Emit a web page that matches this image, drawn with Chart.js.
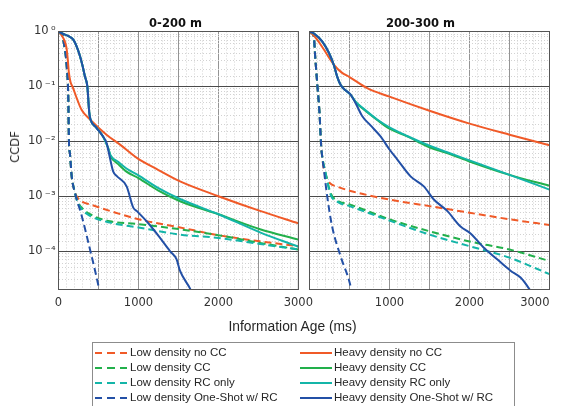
<!DOCTYPE html>
<html><head><meta charset="utf-8">
<script src="https://cdn.jsdelivr.net/npm/chart.js"></script>
<style>
html,body{margin:0;padding:0;background:#fff;overflow:hidden;width:561px;height:406px;}
#wrap{position:relative;width:561px;height:406px;overflow:hidden;background:#fff;}
canvas{position:absolute;top:0;}
#c1{left:0;} #c2{left:300px;}
.t{position:absolute;white-space:nowrap;color:#262626;transform:translate(-50%,-50%);line-height:1;}
.title{font:bold 11.5px "DejaVu Sans";color:#111;}
#ylab{font:11.5px "DejaVu Sans";transform:translate(-50%,-50%) rotate(-90deg);}
#xlab{font:13.8px "Liberation Sans",Arial,sans-serif;}
#legend{position:absolute;left:92px;top:342px;width:421px;height:80px;border:1px solid #8c8c8c;background:#fff;}
.lt{position:absolute;font:11.5px "Liberation Sans",Arial,sans-serif;color:#262626;white-space:nowrap;transform:translateY(-50%);line-height:1;}
.ls{position:absolute;width:32px;height:2px;transform:translateY(-50%);}
</style></head>
<body><div id="wrap">
<canvas id="c1" width="320" height="340"></canvas>
<canvas id="c2" width="280" height="340"></canvas>
<div class="t title" style="left:175.5px;top:22.5px">0-200 m</div>
<div class="t title" style="left:420.5px;top:22.5px">200-300 m</div>
<div class="t" id="ylab" style="left:15px;top:146.5px">CCDF</div>
<div class="t" id="xlab" style="left:292.5px;top:326px">Information Age (ms)</div>
</div>
<script>
// ---------- data (x = information age in ms, y = CCDF) ----------
const SERIES_NAMES = [
  'Low density no CC','Low density CC','Low density RC only','Low density One-Shot w/ RC',
  'Heavy density no CC','Heavy density CC','Heavy density RC only','Heavy density One-Shot w/ RC'
];
const X_TICK_LABELS = [0, 1000, 2000, 3000];
const PANEL_TITLES = ['0-200 m', '200-300 m'];

// Left panel: 0-200 m
const L_LOW_NOCC = [[0,1],[40,0.93],[66,0.63],[103,0.23],[123,0.058],[130,0.0107],[144,0.0058],[165,0.0023],[200,0.00126],[227,0.001],[300,0.00079],[394,0.00071],[644,0.00054],[1000,0.00038],[1520,0.00027],[2000,0.000195],[2520,0.000151],[3000,0.000123]];
const L_LOW_CC   = [[0,1],[40,0.93],[66,0.63],[103,0.23],[123,0.058],[130,0.0107],[144,0.0058],[165,0.0023],[200,0.00126],[240,0.00079],[300,0.0006],[394,0.00047],[644,0.00035],[1000,0.00031],[1520,0.00025],[2000,0.000195],[2520,0.000141],[3000,0.000107]];
const L_LOW_RC   = [[0,1],[40,0.93],[66,0.63],[103,0.23],[123,0.058],[130,0.0107],[144,0.0058],[165,0.0023],[200,0.00126],[240,0.00076],[300,0.00056],[394,0.00044],[644,0.00033],[1000,0.00027],[1520,0.0002],[2000,0.000174],[2520,0.000135],[3000,0.000107]];
const L_LOW_OS   = [[0,1],[40,0.93],[66,0.63],[103,0.23],[123,0.058],[130,0.0107],[144,0.0058],[165,0.0023],[206,0.00115],[290,0.00044],[394,0.000107],[500,2.3e-5],[520,1.6e-5]];
const L_HEAVY_NOCC = [[0,1],[60,0.76],[100,0.5],[115,0.32],[130,0.178],[150,0.12],[180,0.095],[230,0.06],[290,0.037],[394,0.025],[600,0.0132],[770,0.0087],[980,0.005],[1250,0.003],[1520,0.00186],[2000,0.001],[2520,0.00054],[3000,0.00032]];
const L_HEAVY_CC = [[0,1],[40,0.93],[120,0.83],[185,0.71],[230,0.52],[269,0.355],[300,0.24],[331,0.151],[360,0.102],[385,0.033],[400,0.025],[470,0.018],[556,0.0123],[620,0.0076],[650,0.0054],[750,0.0038],[850,0.0028],[1000,0.00214],[1250,0.00126],[1520,0.00081],[2000,0.00047],[2520,0.00025],[3000,0.000162]];
const L_HEAVY_RC = [[0,1],[40,0.93],[120,0.83],[185,0.71],[230,0.52],[269,0.355],[300,0.24],[331,0.151],[360,0.102],[385,0.033],[400,0.025],[470,0.018],[556,0.0123],[620,0.0076],[650,0.0056],[750,0.0042],[850,0.0032],[1000,0.0024],[1250,0.0014],[1520,0.00089],[2000,0.00047],[2520,0.00022],[3000,0.00012]];
const L_HEAVY_OS = [[0,1],[40,0.93],[120,0.83],[185,0.71],[230,0.52],[269,0.355],[300,0.24],[331,0.151],[360,0.102],[385,0.033],[400,0.025],[470,0.018],[556,0.0123],[602,0.0093],[644,0.0049],[685,0.0028],[727,0.00234],[852,0.00151],[935,0.00062],[977,0.00054],[1102,0.00035],[1227,0.00021],[1394,0.0001],[1477,7.1e-5],[1519,4.4e-5],[1644,2.1e-5],[1680,1.6e-5]];

// Right panel: 200-300 m
const R_LOW_NOCC = [[0,1],[30,0.93],[54,0.81],[71,0.35],[96,0.115],[125,0.033],[146,0.0081],[158,0.0054],[179,0.0031],[221,0.0021],[260,0.0017],[346,0.0015],[500,0.00126],[1000,0.00087],[1500,0.00066],[2000,0.0005],[2500,0.00038],[3000,0.0003]];
const R_LOW_CC   = [[0,1],[30,0.93],[54,0.81],[71,0.35],[96,0.115],[125,0.033],[146,0.0081],[158,0.0054],[200,0.0027],[263,0.00115],[350,0.00083],[500,0.00071],[1000,0.00038],[1500,0.00023],[2000,0.00015],[2500,0.000107],[3000,6.6e-5]];
const R_LOW_RC   = [[0,1],[30,0.93],[54,0.81],[71,0.35],[96,0.115],[125,0.033],[146,0.0081],[158,0.0054],[200,0.0027],[263,0.00107],[350,0.00079],[500,0.00066],[1000,0.00036],[1500,0.0002],[2000,0.000123],[2500,7.6e-5],[3000,3.8e-5]];
const R_LOW_OS   = [[0,1],[30,0.93],[54,0.81],[71,0.35],[96,0.115],[125,0.033],[146,0.0081],[158,0.0054],[179,0.0031],[221,0.001],[283,0.00028],[388,8.1e-5],[504,2.6e-5],[530,1.7e-5]];
const R_HEAVY_NOCC = [[0,1],[40,0.89],[96,0.71],[180,0.47],[304,0.25],[400,0.18],[500,0.148],[721,0.093],[1000,0.065],[1500,0.036],[2000,0.021],[2500,0.0132],[3000,0.0085]];
const R_HEAVY_CC = [[0,1],[60,0.91],[158,0.66],[242,0.41],[304,0.245],[346,0.151],[388,0.107],[450,0.085],[513,0.071],[575,0.052],[679,0.038],[846,0.0245],[1000,0.017],[1221,0.0123],[1500,0.0078],[1763,0.0058],[2000,0.0043],[2500,0.00245],[3000,0.00155]];
const R_HEAVY_RC = [[0,1],[60,0.91],[158,0.66],[242,0.41],[304,0.245],[346,0.151],[388,0.107],[450,0.085],[513,0.071],[575,0.053],[679,0.039],[846,0.025],[1000,0.018],[1221,0.0125],[1500,0.0083],[1763,0.006],[2000,0.0045],[2500,0.00245],[3000,0.00132]];
const R_HEAVY_OS = [[0,1],[60,0.91],[158,0.66],[242,0.41],[304,0.245],[346,0.151],[388,0.107],[450,0.085],[513,0.071],[575,0.05],[658,0.029],[763,0.0195],[888,0.0123],[1000,0.0071],[1096,0.0047],[1263,0.0023],[1429,0.00151],[1554,0.00087],[1721,0.00054],[1888,0.00028],[2013,0.00021],[2179,0.000115],[2346,7.1e-5],[2513,4.4e-5],[2638,3.3e-5],[2742,2.1e-5],[2790,1.6e-5]];

const LEFT_SERIES  = [L_LOW_NOCC, L_LOW_CC, L_LOW_RC, L_LOW_OS, L_HEAVY_NOCC, L_HEAVY_CC, L_HEAVY_RC, L_HEAVY_OS];
const RIGHT_SERIES = [R_LOW_NOCC, R_LOW_CC, R_LOW_RC, R_LOW_OS, R_HEAVY_NOCC, R_HEAVY_CC, R_HEAVY_RC, R_HEAVY_OS];

// ---------- styles ----------
const C_ORANGE = '#F05A28', C_GREEN = '#22B04B', C_CYAN = '#14B5A8', C_BLUE = '#2350A6';
const STYLES = [
  {color:C_ORANGE, dash:true},{color:C_GREEN, dash:true},{color:C_CYAN, dash:true},{color:C_BLUE, dash:true},
  {color:C_ORANGE, dash:false},{color:C_GREEN, dash:false},{color:C_CYAN, dash:false},{color:C_BLUE, dash:false}
];
const Y_MIN = 2e-5, Y_MAX = 1, X_MIN = 0, X_MAX = 3000;

Chart.defaults.font.family = "'DejaVu Sans'";
Chart.defaults.font.size = 11.5;

const SUP = {'0':'\u2070','1':'\u00B9','2':'\u00B2','3':'\u00B3','4':'\u2074','5':'\u2075','6':'\u2076','-':'\u207B'};
function isDecade(v){ const l = Math.log10(v); return Math.abs(l - Math.round(l)) < 1e-6; }
function logLabel(v){
  if (!isDecade(v)) return '';
  const e = Math.round(Math.log10(v));
  return '10\u2009' + String(e).split('').map(c => SUP[c]).join('');
}

const framePlugin = {
  id: 'frame',
  afterDatasetsDraw(chart){
    const a = chart.chartArea, c = chart.ctx;
    c.save(); c.strokeStyle = '#555'; c.lineWidth = 1;
    c.strokeRect(a.left, a.top, a.right - a.left, a.bottom - a.top);
    c.restore();
  }
};

function makeDatasets(series){
  return series.map((d, i) => ({
    label: SERIES_NAMES[i],
    data: d,
    borderColor: STYLES[i].color,
    backgroundColor: STYLES[i].color,
    borderWidth: 2,
    borderDash: STYLES[i].dash ? [7,4] : [],
    pointRadius: 0,
    fill: false,
    cubicInterpolationMode: 'monotone',
    order: 8 - i
  }));
}

function makeChart(id, series, isLeft){
  const yWidth = isLeft ? 58.5 : 9.5;
  const padRight = isLeft ? 21.5 : 30.5;
  return new Chart(document.getElementById(id), {
    type: 'line',
    data: { datasets: makeDatasets(series) },
    plugins: [framePlugin],
    options: {
      responsive: false, animation: false, events: [],
      layout: { padding: { left: 0, right: padRight, top: 31.5, bottom: 0 } },
      plugins: { legend: { display: false }, tooltip: { enabled: false }, title: { display: false } },
      scales: {
        xMinor: {
          type: 'linear', min: X_MIN, max: X_MAX, position: 'bottom',
          ticks: { display: false, stepSize: 100, autoSkip: false },
          grid: { color: ctx => (ctx.tick && ctx.tick.value % 500 === 0) ? 'rgba(0,0,0,0)' : '#d2d2d2', drawTicks: false, z: -1 },
          border: { display: false, dash: [1,2] },
          afterFit(s){ s.height = 0; }
        },
        x: {
          type: 'linear', min: X_MIN, max: X_MAX, position: 'bottom',
          ticks: {
            stepSize: 500, autoSkip: false, maxRotation: 0, padding: 7, color: '#333',
            align: isLeft ? 'center' : 'inner',
            callback: v => (X_TICK_LABELS.includes(v) && (isLeft || v > 0)) ? String(v) : ''
          },
          grid: { color: '#949494', drawTicks: false },
          border: { display: false },
          afterFit(s){ s.height = 50.5; }
        },
        yMinor: {
          type: 'logarithmic', min: Y_MIN, max: Y_MAX, position: 'left',
          ticks: { display: false, autoSkip: false },
          grid: { color: ctx => (ctx.tick && isDecade(ctx.tick.value)) ? 'rgba(0,0,0,0)' : '#d2d2d2', drawTicks: false, z: -1 },
          border: { display: false, dash: [1,2] },
          afterFit(s){ s.width = 0; }
        },
        y: {
          type: 'logarithmic', min: Y_MIN, max: Y_MAX, position: 'left',
          ticks: { display: isLeft, autoSkip: false, padding: 3, color: '#333', callback: v => logLabel(v) },
          grid: { color: ctx => (ctx.tick && isDecade(ctx.tick.value)) ? '#4a4a4a' : 'rgba(0,0,0,0)', drawTicks: false },
          border: { display: false },
          afterFit(s){ s.width = yWidth; }
        }
      }
    }
  });
}

makeChart('c1', LEFT_SERIES, true);
makeChart('c2', RIGHT_SERIES, false);

// ---------- legend (HTML) ----------
const lg = document.createElement('div'); lg.id = 'legend';
document.getElementById('wrap').appendChild(lg);
const ROW_Y = [352.5, 367.5, 382.5, 397.5];
SERIES_NAMES.forEach((name, i) => {
  const col = i < 4 ? 0 : 1, row = i % 4;
  const sx = col === 0 ? 95 : 300, tx = col === 0 ? 130 : 334;
  const s = document.createElement('div'); s.className = 'ls';
  s.style.left = (sx - 93) + 'px'; s.style.top = (ROW_Y[row] - 343) + 'px';
  const c = STYLES[i].color;
  s.style.background = STYLES[i].dash
    ? `repeating-linear-gradient(to right, ${c} 0 7px, transparent 7px 12.5px)` : c;
  lg.appendChild(s);
  const t = document.createElement('div'); t.className = 'lt';
  t.style.left = (tx - 93) + 'px'; t.style.top = (ROW_Y[row] - 343) + 'px';
  t.textContent = name;
  lg.appendChild(t);
});
</script>
</body></html>
